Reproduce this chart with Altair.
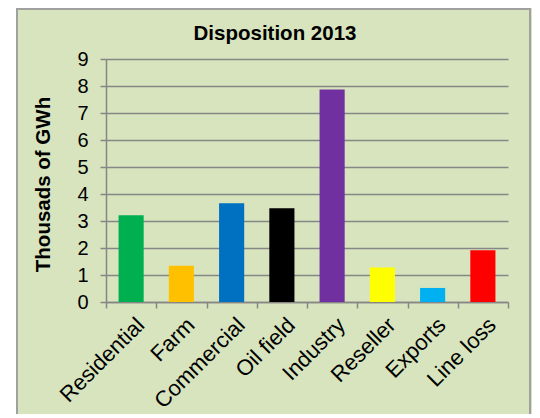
import altair as alt
import pandas as pd

categories = ["Residential", "Farm", "Commercial", "Oil field", "Industry", "Reseller", "Exports", "Line loss"]
values = [3.21, 1.34, 3.66, 3.47, 7.87, 1.28, 0.52, 1.92]
colors = ["#00B050", "#FFC000", "#0070C0", "#000000", "#7030A0", "#FFFF00", "#00B0F0", "#FF0000"]
y_ticks = [0, 1, 2, 3, 4, 5, 6, 7, 8, 9]
chart_title = "Disposition 2013"

df = pd.DataFrame({"cat": categories, "val": values})

FONT = "Liberation Sans"
GRID = "#868686"
BG = "#D7E4BD"
W, H = 402, 243

bars = alt.Chart(df).mark_bar(width=alt.RelativeBandSize(0.5)).encode(
    x=alt.X("cat:N", sort=categories, title=None,
            scale=alt.Scale(paddingInner=0, paddingOuter=0),
            axis=alt.Axis(labelAngle=-45, labelAlign="right", labelBaseline="top",
                          labelFontSize=22, labelFont=FONT, labelColor="black",
                          labelPadding=6, labelOffset=2, tickSize=6, tickBand="extent",
                          tickColor=GRID, tickWidth=1.5, domainColor=GRID,
                          domainWidth=1.5, grid=False, labelLimit=300)),
    y=alt.Y("val:Q", title="Thousads of GWh",
            scale=alt.Scale(domain=[0, 9], nice=False),
            axis=alt.Axis(values=y_ticks, labelFontSize=20, labelFont=FONT,
                          labelColor="black", labelPadding=12, tickSize=6,
                          tickColor=GRID, tickWidth=1.5, domainColor=GRID,
                          domainWidth=1.5, gridColor=GRID, gridWidth=1.5,
                          titleFontSize=20.5, titleFont=FONT, titleFontWeight="bold",
                          titleColor="black", titleX=-57, titleY=125,
                          titleBaseline="alphabetic", titleAngle=270)),
    color=alt.Color("cat:N", scale=alt.Scale(domain=categories, range=colors), legend=None),
)

deco = alt.Data(values=[{"t": chart_title}])
strip = alt.Chart(deco).mark_rect(fill="white", stroke=None).encode(
    x=alt.value(-100), x2=alt.value(-89), y=alt.value(-60), y2=alt.value(400))
frame = alt.Chart(deco).mark_rect(fill=None, stroke="#A0A0A0", strokeWidth=2).encode(
    x=alt.value(-89), x2=alt.value(424), y=alt.value(-50), y2=alt.value(400))
title = alt.Chart(deco).mark_text(font=FONT, fontSize=20.5, fontWeight="bold", color="black",
                                  align="center", baseline="alphabetic").encode(
    x=alt.value(169), y=alt.value(-19), text="t:N")

chart = alt.layer(strip, frame, title, bars).properties(
    width=W, height=H,
    autosize=alt.AutoSizeParams(type="none"),
    padding={"left": 98, "top": 51, "right": 24, "bottom": 112},
).configure(background=BG).configure_view(strokeWidth=0)

chart.save("out.html", embed_options={"renderer": "svg", "actions": False})
